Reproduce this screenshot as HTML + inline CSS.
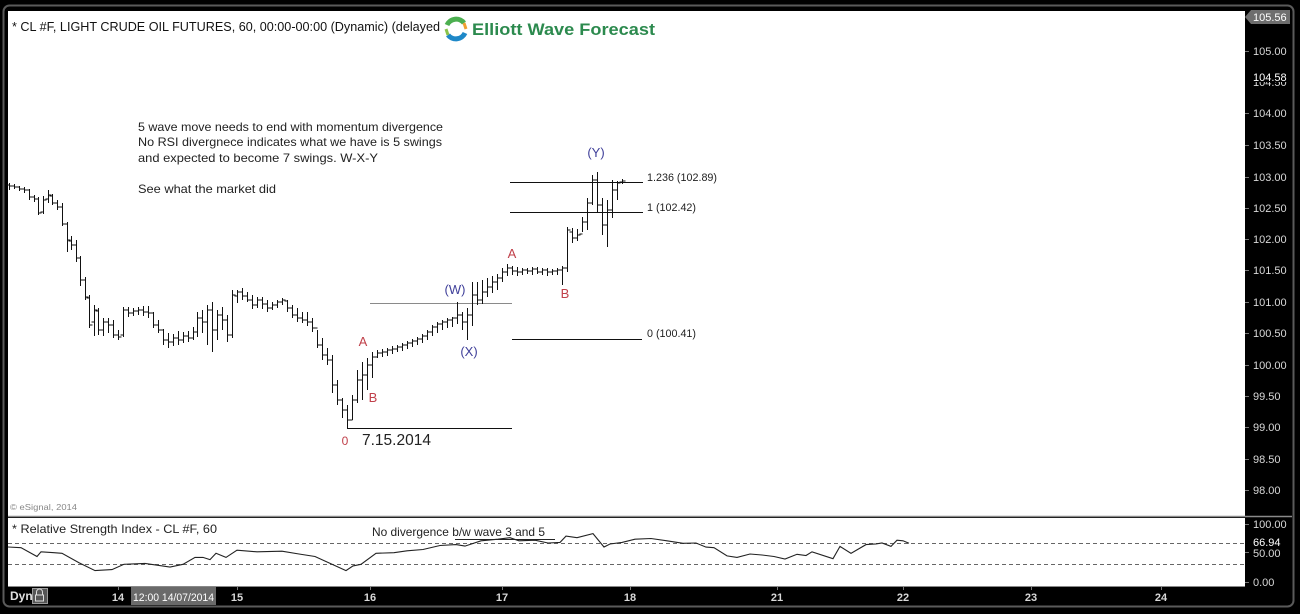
<!DOCTYPE html>
<html><head><meta charset="utf-8"><style>
html,body{margin:0;padding:0;background:#000;width:1300px;height:614px;overflow:hidden}
svg{display:block}
text{font-family:"Liberation Sans",Arial,sans-serif}
</style></head><body>
<svg width="1300" height="614" viewBox="0 0 1300 614" xmlns="http://www.w3.org/2000/svg">
<rect x="0" y="0" width="1300" height="614" fill="#000"/>
<rect x="3.5" y="5.5" width="1290" height="601" rx="6" fill="#000" stroke="#5a5a5a" stroke-width="2"/>
<!-- main plot -->
<rect x="8" y="11" width="1237" height="505" fill="#fff"/>
<line x1="8" y1="516.5" x2="1292" y2="516.5" stroke="#8a8a8a" stroke-width="1.5"/>
<rect x="8" y="518" width="1237" height="68" fill="#fff"/>
<line x1="8" y1="586.5" x2="1245" y2="586.5" stroke="#888" stroke-width="1"/>

<!-- header -->
<text x="12" y="31" font-size="13" fill="#111" textLength="428" lengthAdjust="spacingAndGlyphs">* CL #F, LIGHT CRUDE OIL FUTURES, 60, 00:00-00:00 (Dynamic) (delayed</text>
<g fill="none" stroke-width="5">
<path d="M447 25 A10 10 0 0 1 464 23" stroke="#4caf50"/>
<path d="M465 33 A10 10 0 0 1 448 35" stroke="#1e88c8"/>
<path d="M464 23 L466 29" stroke="#f0a030" stroke-width="3"/>
<path d="M448 35 L446 29" stroke="#8bc34a" stroke-width="3"/>
</g>
<text x="472" y="35" font-size="17" font-weight="bold" fill="#2c8a4e" textLength="183" lengthAdjust="spacingAndGlyphs">Elliott Wave Forecast</text>

<!-- commentary -->
<g font-size="12" fill="#222">
<text x="138" y="131" textLength="305" lengthAdjust="spacingAndGlyphs">5 wave move needs to end with momentum divergence</text>
<text x="138" y="146" textLength="304" lengthAdjust="spacingAndGlyphs">No RSI divergnece indicates what we have is 5 swings</text>
<text x="138" y="162" textLength="240" lengthAdjust="spacingAndGlyphs">and expected to become 7 swings. W-X-Y</text>
<text x="138" y="193" textLength="138" lengthAdjust="spacingAndGlyphs">See what the market did</text>
</g>

<!-- reference lines -->
<line x1="370" y1="303.5" x2="512" y2="303.5" stroke="#8a8a8a" stroke-width="1"/>
<g stroke="#111" stroke-width="1">
<line x1="510" y1="182.5" x2="643" y2="182.5"/>
<line x1="510" y1="212.5" x2="643" y2="212.5"/>
<line x1="512" y1="339.5" x2="642" y2="339.5"/>
<line x1="347" y1="428.5" x2="512" y2="428.5"/>
</g>
<g font-size="11" fill="#222">
<text x="647" y="181" textLength="70" lengthAdjust="spacingAndGlyphs">1.236 (102.89)</text>
<text x="647" y="211" textLength="49" lengthAdjust="spacingAndGlyphs">1 (102.42)</text>
<text x="647" y="337" textLength="49" lengthAdjust="spacingAndGlyphs">0 (100.41)</text>
</g>

<!-- bars -->
<path fill="none" stroke="#111" stroke-width="1" shape-rendering="crispEdges" d="
M9.5 183V190M6.5 185h3M9.5 186h3
M14.5 184V189M11.5 186h3M14.5 187h3
M19.5 186V191M16.5 187h3M19.5 189h3
M24.5 187V193M21.5 189h3M24.5 190h3
M29.5 189V200M26.5 190h3M29.5 197h3
M34.5 195V202M31.5 197h3M34.5 199h3
M38.5 197V215M35.5 199h3M38.5 213h3
M43.5 196V214M40.5 212h3M43.5 200h3
M48.5 190V203M45.5 199h3M48.5 195h3
M52.5 194V205M49.5 196h3M52.5 203h3
M57.5 200V210M54.5 203h3M57.5 207h3
M62.5 203V226M59.5 207h3M62.5 224h3
M67.5 222V252M64.5 224h3M67.5 240h3
M71.5 236V250M68.5 241h3M71.5 245h3
M76.5 240V262M73.5 245h3M76.5 258h3
M80.5 256V286M77.5 258h3M80.5 280h3
M85.5 277V300M82.5 280h3M85.5 297h3
M89.5 295V328M86.5 298h3M89.5 325h3
M94.5 305V336M91.5 322h3M94.5 310h3
M98.5 308V335M95.5 311h3M98.5 330h3
M103.5 318V336M100.5 330h3M103.5 322h3
M108.5 318V333M105.5 322h3M108.5 325h3
M113.5 320V338M110.5 325h3M113.5 335h3
M118.5 330V340M115.5 335h3M118.5 337h3
M123.5 307V337M120.5 335h3M123.5 310h3
M128.5 307V317M125.5 310h3M128.5 313h3
M133.5 308V316M130.5 313h3M133.5 311h3
M138.5 307V315M135.5 311h3M138.5 310h3
M143.5 306V316M140.5 310h3M143.5 312h3
M148.5 306V318M145.5 312h3M148.5 313h3
M153.5 312V328M150.5 313h3M153.5 325h3
M158.5 320V333M155.5 325h3M158.5 330h3
M163.5 329V345M160.5 330h3M163.5 340h3
M168.5 333V348M165.5 340h3M168.5 342h3
M173.5 334V346M170.5 342h3M173.5 338h3
M178.5 331V345M175.5 338h3M178.5 340h3
M183.5 332V343M180.5 340h3M183.5 336h3
M188.5 331V342M185.5 336h3M188.5 338h3
M193.5 327V340M190.5 338h3M193.5 332h3
M197.5 312V337M194.5 332h3M197.5 318h3
M202.5 310V333M199.5 318h3M202.5 322h3
M207.5 305V345M204.5 322h3M207.5 310h3
M212.5 302V352M209.5 310h3M212.5 330h3
M217.5 310V340M214.5 330h3M217.5 315h3
M222.5 307V330M219.5 315h3M222.5 320h3
M227.5 315V342M224.5 320h3M227.5 335h3
M232.5 290V338M229.5 335h3M232.5 295h3
M237.5 290V303M234.5 296h3M237.5 292h3
M242.5 288V300M239.5 292h3M242.5 296h3
M247.5 292V302M244.5 296h3M247.5 300h3
M252.5 295V309M249.5 300h3M252.5 305h3
M257.5 297V308M254.5 305h3M257.5 300h3
M262.5 297V309M259.5 300h3M262.5 304h3
M267.5 300V312M264.5 304h3M267.5 308h3
M272.5 302V310M269.5 308h3M272.5 305h3
M277.5 300V308M274.5 305h3M277.5 302h3
M282.5 298V305M279.5 302h3M282.5 300h3
M287.5 300V312M284.5 301h3M287.5 308h3
M292.5 305V318M289.5 308h3M292.5 315h3
M297.5 308V322M294.5 315h3M297.5 318h3
M302.5 312V323M299.5 318h3M302.5 320h3
M307.5 312V326M304.5 320h3M307.5 322h3
M312.5 318V332M309.5 322h3M312.5 328h3
M317.5 330V348M314.5 328h3M317.5 345h3
M322.5 338V360M319.5 345h3M322.5 355h3
M327.5 348V365M324.5 355h3M327.5 360h3
M332.5 355V393M329.5 360h3M332.5 385h3
M337.5 380V405M334.5 385h3M337.5 400h3
M342.5 398V418M339.5 400h3M342.5 410h3
M347.5 405V428M344.5 410h3M347.5 420h3
M352.5 395V420M349.5 420h3M352.5 400h3
M357.5 370V403M354.5 400h3M357.5 380h3
M362.5 362V400M359.5 380h3M362.5 375h3
M367.5 358V390M364.5 375h3M367.5 365h3
M372.5 352V378M369.5 365h3M372.5 357h3
M377.5 350V358M374.5 357h3M377.5 353h3
M382.5 349V357M379.5 353h3M382.5 352h3
M387.5 348V356M384.5 352h3M387.5 350h3
M392.5 346V354M389.5 350h3M392.5 349h3
M397.5 345V352M394.5 349h3M397.5 347h3
M402.5 343V351M399.5 347h3M402.5 345h3
M407.5 341V349M404.5 345h3M407.5 343h3
M412.5 339V347M409.5 343h3M412.5 341h3
M417.5 337V345M414.5 341h3M417.5 339h3
M422.5 334V343M419.5 339h3M422.5 336h3
M427.5 330V340M424.5 336h3M427.5 332h3
M432.5 325V336M429.5 332h3M432.5 327h3
M437.5 322V333M434.5 327h3M437.5 324h3
M442.5 320V330M439.5 324h3M442.5 322h3
M447.5 318V328M444.5 322h3M447.5 320h3
M452.5 317V327M449.5 320h3M452.5 318h3
M457.5 302V324M454.5 318h3M457.5 315h3
M462.5 312V330M459.5 315h3M462.5 322h3
M467.5 308V340M464.5 322h3M467.5 315h3
M472.5 282V326M469.5 315h3M472.5 295h3
M477.5 282V305M474.5 295h3M477.5 300h3
M482.5 280V304M479.5 300h3M482.5 292h3
M487.5 278V297M484.5 292h3M487.5 287h3
M492.5 276V293M489.5 287h3M492.5 282h3
M497.5 274V290M494.5 282h3M497.5 278h3
M502.5 268V282M499.5 278h3M502.5 272h3
M507.5 264V276M504.5 272h3M507.5 268h3
M512.5 266V275M509.5 268h3M512.5 271h3
M517.5 267V276M514.5 271h3M517.5 272h3
M522.5 268V275M519.5 272h3M522.5 270h3
M527.5 268V274M524.5 270h3M527.5 271h3
M532.5 267V275M529.5 271h3M532.5 269h3
M537.5 267V274M534.5 269h3M537.5 272h3
M542.5 268V275M539.5 272h3M542.5 270h3
M547.5 268V276M544.5 270h3M547.5 272h3
M552.5 269V275M549.5 272h3M552.5 271h3
M557.5 268V275M554.5 271h3M557.5 270h3
M562.5 266V285M559.5 270h3M562.5 268h3
M567.5 227V272M564.5 268h3M567.5 230h3
M572.5 228V243M569.5 232h3M572.5 238h3
M577.5 229V241M574.5 238h3M577.5 235h3
M582.5 217V232M579.5 234h3M582.5 222h3
M587.5 198V230M584.5 222h3M587.5 203h3
M592.5 175V205M589.5 203h3M592.5 180h3
M597.5 172V212M594.5 180h3M597.5 205h3
M602.5 198V235M599.5 205h3M602.5 225h3
M607.5 200V247M604.5 225h3M607.5 210h3
M612.5 180V218M609.5 210h3M612.5 190h3
M617.5 181V200M614.5 190h3M617.5 183h3
M622.5 179V184M619.5 182h3M622.5 181h3"/>

<!-- wave labels -->
<g font-size="13" text-anchor="middle">
<text x="596" y="157" fill="#40409a">(Y)</text>
<text x="512" y="258" fill="#c0404a">A</text>
<text x="565" y="298" fill="#c0404a">B</text>
<text x="455" y="294" fill="#40409a">(W)</text>
<text x="469" y="356" fill="#40409a">(X)</text>
<text x="363" y="346" fill="#c0404a">A</text>
<text x="373" y="402" fill="#c0404a">B</text>
<text x="345" y="445" fill="#c0404a" font-size="12">0</text>
</g>
<text x="362" y="445" font-size="16" fill="#222" textLength="69" lengthAdjust="spacingAndGlyphs">7.15.2014</text>

<text x="10" y="510" font-size="8.5" fill="#888" textLength="67" lengthAdjust="spacingAndGlyphs">© eSignal, 2014</text>

<!-- RSI panel -->
<g stroke="#666" stroke-width="1" stroke-dasharray="4,3">
<line x1="8" y1="543.5" x2="1245" y2="543.5"/>
<line x1="8" y1="564.5" x2="1245" y2="564.5"/>
</g>
<text x="12" y="533" font-size="12" fill="#222" textLength="205" lengthAdjust="spacingAndGlyphs">* Relative Strength Index - CL #F, 60</text>
<text x="372" y="536" font-size="12" fill="#222" textLength="173" lengthAdjust="spacingAndGlyphs">No divergence b/w wave 3 and 5</text>
<line x1="455" y1="539.5" x2="555" y2="539.5" stroke="#222" stroke-width="1"/>
<polyline fill="none" stroke="#222" stroke-width="1.1" points="8,547 21,547.7 37,556.5 41,551.8 54,552.7 62,553.3 79,562.7 95,570.6 112,569.6 124,564.3 145,563.4 158,565.3 170,567.1 183,564.3 195,557.4 203,557.4 210,559.6 216,553.3 226,557.4 237,550.2 257,551.8 282,551.2 299,554 315,556.5 332,564.3 346,570.6 353,565.9 361,564.3 376,553.3 394,552.7 407,550.8 423,549.5 440,545.5 456,544.6 465,546.1 481,540.8 498,539.2 510,537.7 519,540.8 535,540.2 548,543 560,542.4 566,536.1 577,537.7 593,533.6 604,547 610,544 622,542.4 635,539.2 651,538.5 667,540.8 683,543.3 696,543 706,547.1 714,547.7 727,555.9 737,557.4 750,554 762,555 774,556.5 785,559 797,554.3 806,555.5 812,551.8 833,558.7 840,546.4 851,553.3 866,544.6 876,543.9 882,543 891,546.4 897,540.2 903,540.8 909,543.3"/>

<!-- right axis -->
<g stroke="#777" stroke-width="1">
<line x1="1245" y1="51.5" x2="1249" y2="51.5"/>
<line x1="1245" y1="113.5" x2="1249" y2="113.5"/>
<line x1="1245" y1="145.5" x2="1249" y2="145.5"/>
<line x1="1245" y1="177.5" x2="1249" y2="177.5"/>
<line x1="1245" y1="208.5" x2="1249" y2="208.5"/>
<line x1="1245" y1="239.5" x2="1249" y2="239.5"/>
<line x1="1245" y1="270.5" x2="1249" y2="270.5"/>
<line x1="1245" y1="302.5" x2="1249" y2="302.5"/>
<line x1="1245" y1="333.5" x2="1249" y2="333.5"/>
<line x1="1245" y1="365.5" x2="1249" y2="365.5"/>
<line x1="1245" y1="396.5" x2="1249" y2="396.5"/>
<line x1="1245" y1="427.5" x2="1249" y2="427.5"/>
<line x1="1245" y1="459.5" x2="1249" y2="459.5"/>
<line x1="1245" y1="490.5" x2="1249" y2="490.5"/>
<line x1="1245" y1="524.5" x2="1249" y2="524.5"/>
<line x1="1245" y1="552.5" x2="1249" y2="552.5"/>
<line x1="1245" y1="582.5" x2="1249" y2="582.5"/>
</g>
<polygon points="1245,17 1251,10 1290,10 1290,24 1251,24" fill="#6e6e6e"/>
<g font-size="11" fill="#d8d8d8">
<text x="1253" y="21" fill="#fff">105.56</text>
<text x="1253" y="55">105.00</text>
<text x="1253" y="86">104.50</text>
</g>
<rect x="1251" y="69" width="38" height="13" fill="#000"/>
<g font-size="11" fill="#d8d8d8">
<text x="1253" y="81" fill="#fff">104.58</text>
<text x="1253" y="117">104.00</text>
<text x="1253" y="149">103.50</text>
<text x="1253" y="181">103.00</text>
<text x="1253" y="212">102.50</text>
<text x="1253" y="243">102.00</text>
<text x="1253" y="274">101.50</text>
<text x="1253" y="306">101.00</text>
<text x="1253" y="337">100.50</text>
<text x="1253" y="369">100.00</text>
<text x="1253" y="400">99.50</text>
<text x="1253" y="431">99.00</text>
<text x="1253" y="463">98.50</text>
<text x="1253" y="494">98.00</text>
<text x="1253" y="528">100.00</text>
<text x="1253" y="557">50.00</text>
</g>
<rect x="1251" y="536" width="36" height="12" fill="#000"/>
<text x="1253" y="546" font-size="11" fill="#fff">66.94</text>
<text x="1253" y="586" font-size="11" fill="#d8d8d8">0.00</text>

<!-- bottom axis -->
<text x="10" y="600" font-size="12" font-weight="bold" fill="#e0e0e0">Dyn</text>
<rect x="32.5" y="588.5" width="15" height="15" fill="#555" stroke="#999" stroke-width="1"/>
<path d="M36.5 595V592a3 3 0 0 1 6 0V595M35.5 595h8v6h-8z" fill="none" stroke="#ddd" stroke-width="1"/>
<g stroke="#777" stroke-width="1">
<line x1="118.5" y1="587" x2="118.5" y2="590"/>
<line x1="237.5" y1="587" x2="237.5" y2="590"/>
<line x1="370.5" y1="587" x2="370.5" y2="590"/>
<line x1="502.5" y1="587" x2="502.5" y2="590"/>
<line x1="630.5" y1="587" x2="630.5" y2="590"/>
<line x1="777.5" y1="587" x2="777.5" y2="590"/>
<line x1="903.5" y1="587" x2="903.5" y2="590"/>
<line x1="1031.5" y1="587" x2="1031.5" y2="590"/>
<line x1="1161.5" y1="587" x2="1161.5" y2="590"/>
</g>
<rect x="131" y="587" width="85" height="18" fill="#6a6a6a"/>
<g font-size="11" font-weight="bold" fill="#d8d8d8" text-anchor="middle">
<text x="118" y="601">14</text>
<text x="173.5" y="601" fill="#fff" font-weight="normal" textLength="81" lengthAdjust="spacingAndGlyphs">12:00 14/07/2014</text>
<text x="237" y="601">15</text>
<text x="370" y="601">16</text>
<text x="502" y="601">17</text>
<text x="630" y="601">18</text>
<text x="777" y="601">21</text>
<text x="903" y="601">22</text>
<text x="1031" y="601">23</text>
<text x="1161" y="601">24</text>
</g>
</svg>
</body></html>
